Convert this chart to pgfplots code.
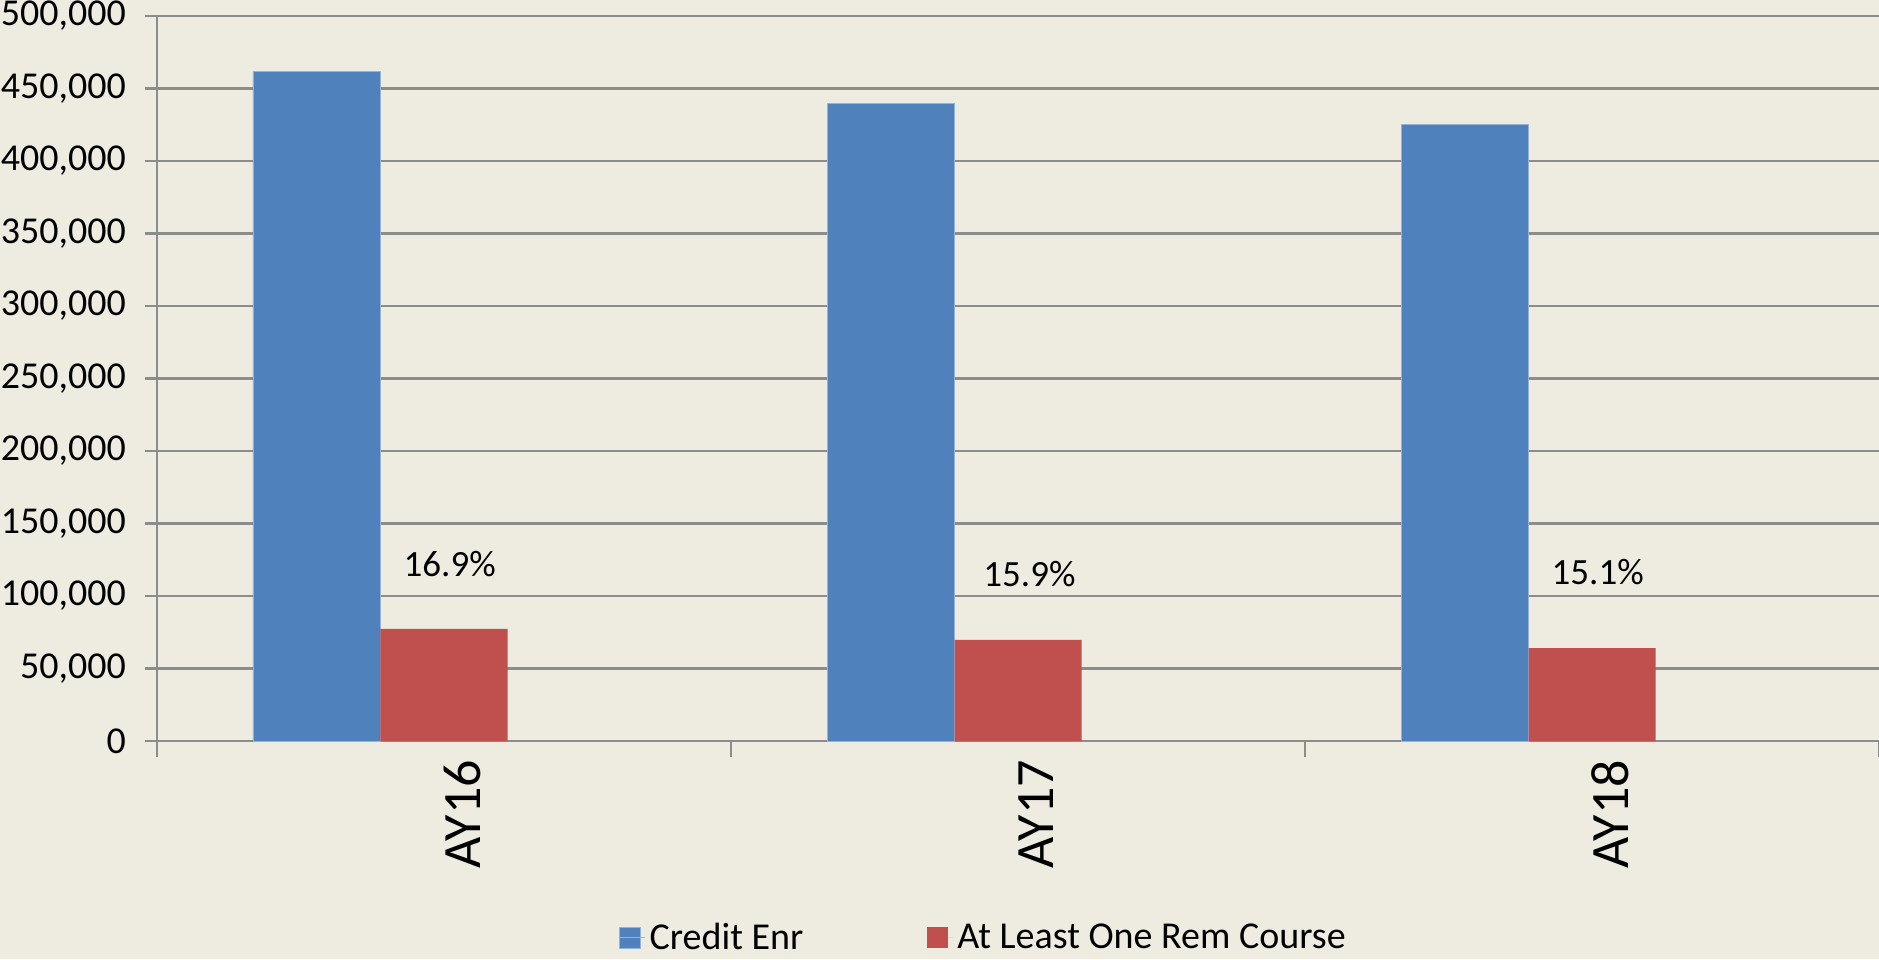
\documentclass[border=0pt]{standalone}
\usepackage{pgfplots}
\pgfplotsset{compat=1.18}
\usepackage{fontspec}
\setmainfont{Carlito}
\definecolor{bgc}{HTML}{EEECE1}
\definecolor{blueC}{HTML}{4F81BD}
\definecolor{redC}{HTML}{C0504D}
\definecolor{gridC}{HTML}{8C8C8C}
\begin{document}
\begin{tikzpicture}
\fill[bgc] (-78.5pt,-109pt) rectangle (861pt,370.5pt);
\begin{axis}[
  scale only axis,
  width=861pt, height=362.5pt,
  xmin=-0.5, xmax=2.5,
  ymin=0, ymax=500000,
  axis x line*=bottom,
  axis y line*=left,
  axis line style={gridC, line width=1.2pt},
  ytick={0,50000,...,500000},
  ymajorgrids,
  grid style={gridC, line width=1.2pt},
  xtick={0,1,2},
  xticklabels={AY16,AY17,AY18},
  minor xtick={-0.5,0.5,1.5,2.5},
  major x tick style={draw=none},
  minor x tick style={gridC, line width=1.2pt},
  major y tick style={gridC, line width=1.2pt},
  tick align=outside,
  major tick length=6pt,
  minor tick length=8pt,
  /pgf/number format/assume math mode=true,
  /pgf/number format/.cd, fixed, 1000 sep={,}, /pgfplots/.cd,
  scaled y ticks=false,
  yticklabel style={font=\fontsize{19}{22.8}\selectfont, xshift=-6pt},
  xticklabel style={rotate=90, anchor=east, yshift=-9pt, font=\fontsize{27}{32.4}\selectfont},
  legend style={at={(0.268,-0.2715)}, anchor=west, draw=none, fill=none,
    font=\fontsize{19}{22.8}\selectfont, inner sep=0pt,
    /tikz/every even column/.append style={column sep=60pt}},
  legend columns=2,
  legend cell align=left,
  legend image code/.code={\fill[#1] (0pt,-5.25pt) rectangle (10.5pt,5.25pt); \path (0pt,0pt) -- (13pt,0pt);},
]
\addplot[ybar, bar width=63.5pt, bar shift=-63.75pt, fill=blueC, draw=blueC!60!white, line width=0.4pt]
  coordinates {(0,462000) (1,440000) (2,425000)};
\addlegendentry{Credit Enr}
\addplot[ybar, bar width=63.5pt, bar shift=0pt, fill=redC, draw=none]
  coordinates {(0,77300) (1,69800) (2,64000)};
\addlegendentry{At Least One Rem Course}
\node[font=\fontsize{18.5}{22.2}\selectfont] at (axis cs:0.01,122000) {16.9\%};
\node[font=\fontsize{18.5}{22.2}\selectfont] at (axis cs:1.02,115200) {15.9\%};
\node[font=\fontsize{18.5}{22.2}\selectfont] at (axis cs:2.01,116500) {15.1\%};
\end{axis}
\pgfresetboundingbox
\path[use as bounding box] (-78.5pt,-109pt) rectangle (861pt,370.5pt);
\end{tikzpicture}
\end{document}
